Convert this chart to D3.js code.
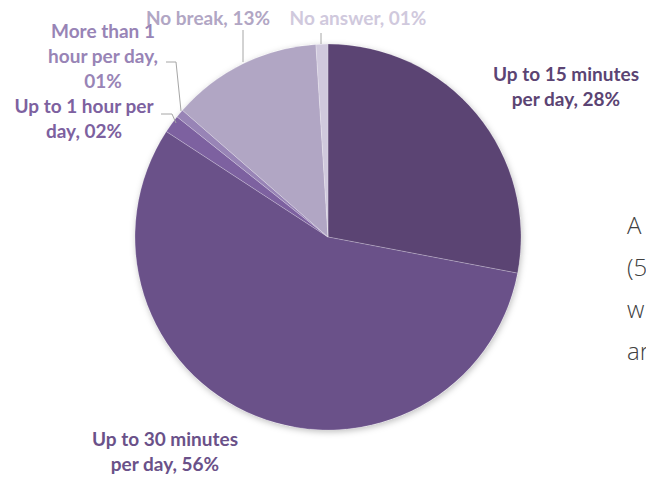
<!DOCTYPE html>
<html><head><meta charset="utf-8">
<script src="https://cdn.jsdelivr.net/npm/d3@7"></script>
<style>html,body{margin:0;padding:0;background:#fff;overflow:hidden}</style>
</head><body>
<svg id="c" width="646" height="477"></svg>
<script>
const categories = ["Up to 15 minutes per day","Up to 30 minutes per day","Up to 1 hour per day","More than 1 hour per day","No break","No answer"];
const values = [28, 56.2, 1.5, 0.7, 12.6, 1.0];
const valueLabels = ["28%","56%","02%","01%","13%","01%"];
const labelLines = [
  ["Up to 15 minutes","per day, 28%"],
  ["Up to 30 minutes","per day, 56%"],
  ["Up to 1 hour per","day, 02%"],
  ["More than 1","hour per day,","01%"],
  ["No break, 13%"],
  ["No answer, 01%"]
];
const sideText = ["A","(5","w","ar"];

const colors = ["#5b4473","#6a5189","#7d61a0","#9884b6","#b1a6c4","#d0c9dd"];
const labelColors = ["#5b4473","#6a5189","#7d61a0","#9884b6","#b1a6c4","#d0c9dd"];
// label anchor (center x, first line baseline y)
const labelPos = [[566,81],[165,446],[84,113],[103,38],[208,25],[358,25]];

const svg = d3.select("#c");
const defs = svg.append("defs");
const f = defs.append("filter").attr("id","sh").attr("x","-20%").attr("y","-20%").attr("width","140%").attr("height","140%");
f.append("feDropShadow").attr("dx",1).attr("dy",2).attr("stdDeviation",3).attr("flood-color","#000").attr("flood-opacity",0.25);

const cx = 328, cy = 237, r = 193;
const pie = d3.pie().sort(null).value(d=>d);
const arcs = pie(values);
const arc = d3.arc().innerRadius(0).outerRadius(r);
const g = svg.append("g").attr("transform",`translate(${cx},${cy})`);
g.append("circle").attr("r",r).attr("fill","#fff").attr("filter","url(#sh)");
g.selectAll("path").data(arcs).join("path")
  .attr("d",arc).attr("fill",(d,i)=>colors[i])
  .attr("stroke","rgba(255,255,255,0.35)").attr("stroke-width",0.6);

// leader lines
const leaders = [
  null, null,
  [[161,114],[172,114],[176,123]],
  [[166,62],[176,62],[181,111]],
  [[243,30],[243,62]],
  [[321,33],[321,44]]
];
leaders.forEach(pts=>{
  if(!pts) return;
  svg.append("path").attr("d",d3.line()(pts)).attr("fill","none").attr("stroke","#a6a6a6").attr("stroke-width",1);
});

labelLines.forEach((lines,i)=>{
  const t = svg.append("text").attr("text-anchor","middle")
    .attr("font-family","Lato, sans-serif").attr("font-weight","bold").attr("font-size",19)
    .attr("fill",labelColors[i]);
  lines.forEach((ln,j)=>{
    t.append("tspan").attr("x",labelPos[i][0]).attr("y",labelPos[i][1]+j*25).text(ln);
  });
});

sideText.forEach((s,j)=>{
  svg.append("text").attr("x",627).attr("y",234+j*42)
    .attr("font-family","'Open Sans', sans-serif").attr("font-weight",300).attr("font-size",24)
    .attr("fill","#404040").text(s);
});
</script>
</body></html>
